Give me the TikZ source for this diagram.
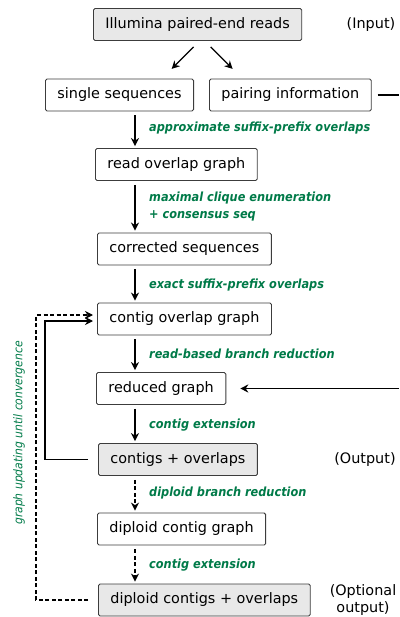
\documentclass[tikz,border=0pt]{standalone}
\usepackage{fontspec}
\setmainfont{DejaVu Sans}
\newfontfamily\notefont{DejaVu Sans Condensed Bold Oblique}
\newfontfamily\loopfont{DejaVu Sans Condensed Oblique}
\usetikzlibrary{positioning,arrows.meta}

\definecolor{notegreen}{RGB}{0,122,72}
\definecolor{boxgrey}{RGB}{232,232,232}
\definecolor{boxline}{RGB}{60,60,60}

\tikzset{
    box/.style={draw=boxline,line width=0.9pt,rounded corners=1.5pt,anchor=west,
        inner xsep=12pt,minimum height=32pt,font=\fontsize{14.4pt}{17pt}\selectfont},
    greybox/.style={box,fill=boxgrey},
    flow/.style={-{Stealth[length=8pt,width=8pt]},line width=1.3pt},
    loose/.style={dash pattern=on 4pt off 2.5pt},
    note/.style={anchor=west,text=notegreen,align=left,inner sep=0pt,
        font=\notefont\fontsize{12.6pt}{17pt}\selectfont},
    side/.style={align=center,inner sep=0pt,font=\fontsize{14.4pt}{17pt}\selectfont}
}

\begin{document}
\begin{tikzpicture}[x=1pt,y=-1pt]
            \useasboundingbox (0,0) rectangle (399,617);
            \coordinate (spine) at (135,0);
            \coordinate (rim) at (399,0);

            \node[greybox] (inp) at (93,24.5) {Illumina paired-end reads};
            \node[box] (single) at (45,95) {single sequences};
            \node[box] (pairing) at (209,95) {pairing information};
            \node[box] (rog) at (95,164.5) {read overlap graph};
            \node[box] (corr) at (97,249) {corrected sequences};
            \node[box] (cog) at (97,319) {contig overlap graph};
            \node[box] (red) at (96,388.5) {reduced graph};
            \node[greybox] (cont) at (98,459.5) {contigs + overlaps};
            \node[box] (dcg) at (97,529) {diploid contig graph};
            \node[greybox] (dco) at (98,600) {diploid contigs + overlaps};

            \node[side] (ninp) at (371,25) {(Input)};
            \node[side] (ncont) at (365,460) {(Output)};
            \node[side] (ndco) at (363,600) {(Optional\\output)};

            \draw[flow] ([shift={(-4,6)}]inp.south) -- ([shift={(-26,28)}]inp.south);
            \draw[flow] ([shift={(13,6)}]inp.south) -- ([shift={(35,28)}]inp.south);

            % main column of steps
            \begin{scope}[shorten <=4pt,shorten >=2pt]
                \draw[flow] (single.south -| spine) -- (rog.north -| spine);
                \draw[flow] (rog.south -| spine) -- (corr.north -| spine);
                \draw[flow] (corr.south -| spine) -- (cog.north -| spine);
                \draw[flow] (cog.south -| spine) -- (red.north -| spine);
                \draw[flow] (red.south -| spine) -- (cont.north -| spine);
                \draw[flow,loose] (cont.south -| spine) -- (dcg.north -| spine);
                \draw[flow,loose] (dcg.south -| spine) -- (dco.north -| spine);
            \end{scope}

            \node[note] (l1) at (149,128) {approximate suffix-prefix overlaps};
            \node[note] (l2) at (149,206.5) {maximal clique enumeration\\+ consensus seq};
            \node[note] (l3) at (149,285) {exact suffix-prefix overlaps};
            \node[note] (l4) at (149,354) {read-based branch reduction};
            \node[note] (l5) at (149,425) {contig extension};
            \node[note] (l6) at (149,493) {diploid branch reduction};
            \node[note] (l7) at (149,565) {contig extension};

            % pairing information re-enters at the reduced graph
            \draw[line width=1.3pt] ([xshift=6pt]pairing.east) -- (pairing.east -| rim);
            \draw[flow] (red.east -| rim) -- ([xshift=14pt]red.east);

            % feedback loops
            \draw[flow] ([xshift=-10pt]cont.west) -- ++(-43,0) |- ([shift={(-4,2)}]cog.west);
            \draw[flow,loose] ([xshift=-10pt]dco.west) -- ++(-52,0) |- ([shift={(-4,-4)}]cog.west);
            \node[rotate=90,text=notegreen,inner sep=0pt,
                font=\loopfont\fontsize{12pt}{14pt}\selectfont] (loop) at (19,433)
                {graph updating until convergence};
        \end{tikzpicture}
\end{document}
